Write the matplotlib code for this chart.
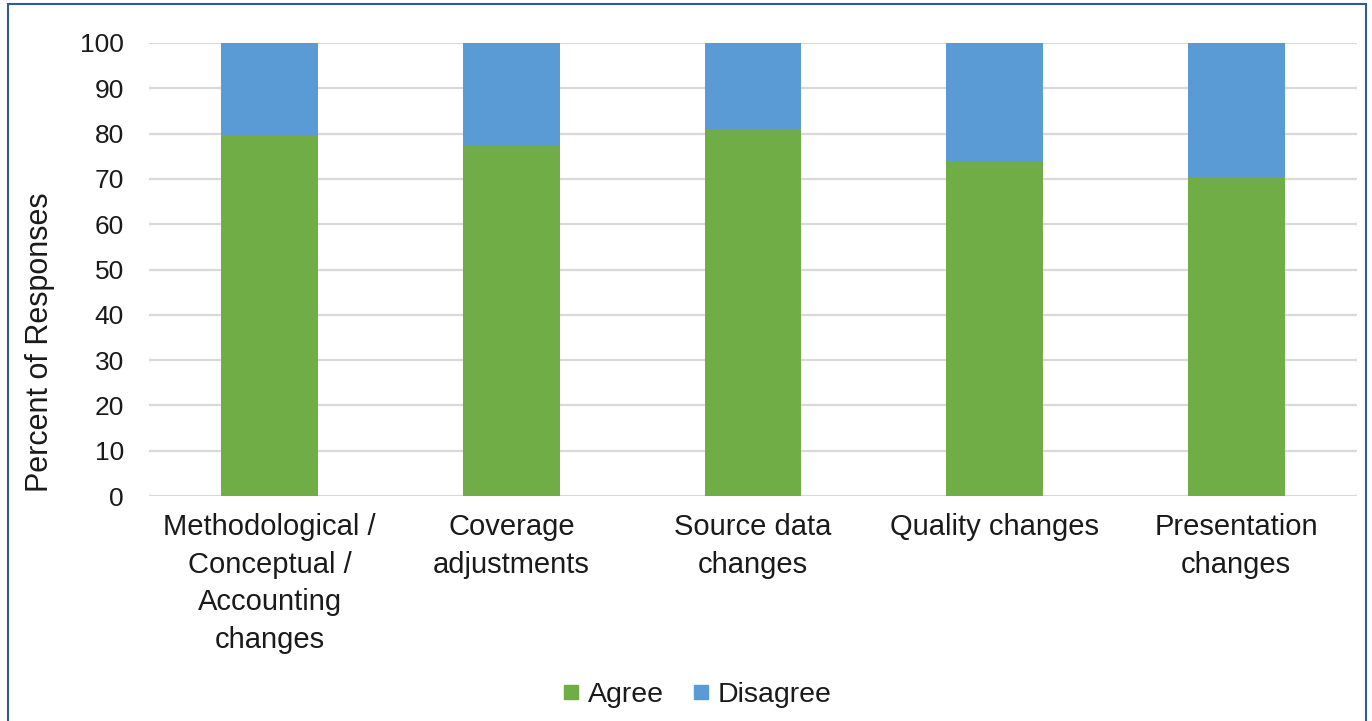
import matplotlib.pyplot as plt
from matplotlib.lines import Line2D
from matplotlib.patches import Rectangle

plt.rcParams['font.family'] = ['Liberation Sans', 'DejaVu Sans']

categories = ['Methodological /\nConceptual /\nAccounting\nchanges',
              'Coverage\nadjustments',
              'Source data\nchanges',
              'Quality changes',
              'Presentation\nchanges']
agree = [79.7, 77.2, 81.1, 73.8, 70.5]
disagree = [100 - a for a in agree]
yticks = list(range(0, 101, 10))

green = '#70AD47'
blue = '#5B9BD5'

fig = plt.figure(figsize=(13.72, 7.21), dpi=100)
ax = fig.add_axes([149 / 1372, 1 - 496 / 721, 1208 / 1372, 453 / 721])

x = list(range(len(categories)))
ax.bar(x, agree, width=0.4, color=green, zorder=3)
ax.bar(x, disagree, width=0.4, bottom=agree, color=blue, zorder=3)

ax.set_xlim(-0.5, len(categories) - 0.5)
ax.set_ylim(0, 100)
ax.set_yticks(yticks)
ax.yaxis.grid(True, color='#D9D9D9', linewidth=1.6, zorder=0)
ax.set_axisbelow(True)
for s in ax.spines.values():
    s.set_visible(False)
ax.tick_params(axis='y', length=0, pad=18, labelsize=19, labelcolor='#1a1a1a')
ax.tick_params(axis='x', length=0, pad=12, labelsize=21, labelcolor='#1a1a1a')
ax.set_xticks(x)
ax.set_xticklabels(categories, linespacing=1.45)

fig.text(40 / 1372, 1 - 342 / 721, 'Percent of Responses', rotation=90,
         ha='center', va='center', fontsize=22, color='#1a1a1a')

handles = [Line2D([], [], marker='s', linestyle='none', markersize=10, color=green),
           Line2D([], [], marker='s', linestyle='none', markersize=10, color=blue)]
fig.legend(handles, ['Agree', 'Disagree'], loc='center', bbox_to_anchor=(0.508, 1 - 695 / 721),
           ncol=2, frameon=False, fontsize=20.5, handlelength=0.6, handletextpad=0.3,
           columnspacing=1.0, labelcolor='#1a1a1a')

# cadre bleu autour du graphique
fig.patches.append(Rectangle((8 / 1372, -0.01), 1358 / 1372, 1 - 4 / 721 + 0.01,
                             transform=fig.transFigure, fill=False,
                             edgecolor='#2E5C9A', linewidth=1.5))

fig.savefig('out.png', dpi=100)
